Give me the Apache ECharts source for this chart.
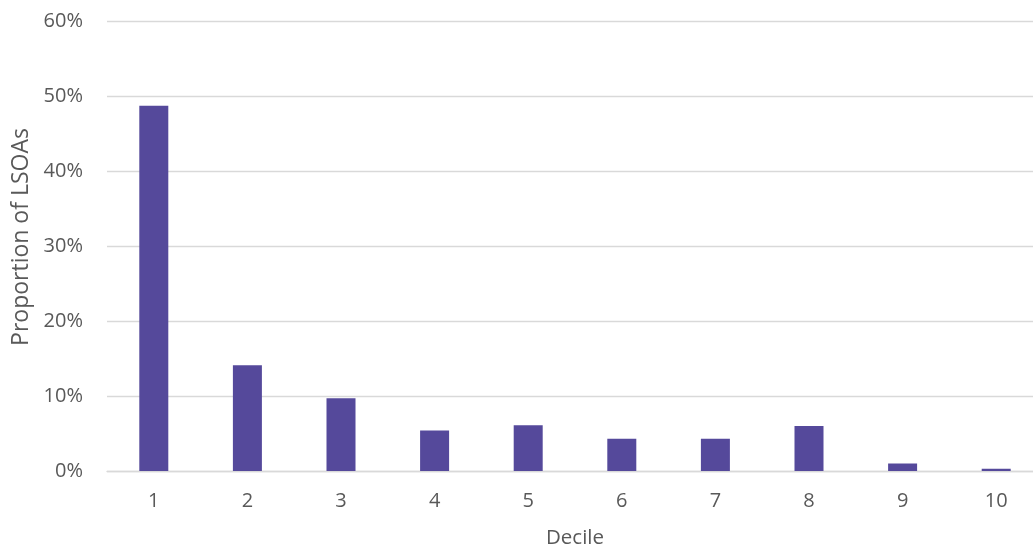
<!DOCTYPE html>
<html>
<head>
<meta charset="utf-8">
<script src="https://cdn.jsdelivr.net/npm/echarts@6/dist/echarts.min.js"></script>
<style>
html,body{margin:0;padding:0;background:#fff;}
#chart{width:1033px;height:548px;}
</style>
</head>
<body>
<div id="chart"></div>
<script>
const categories = ['1','2','3','4','5','6','7','8','9','10'];
const proportions = [48.7, 14.1, 9.7, 5.4, 6.1, 4.3, 4.3, 6.0, 1.0, 0.3];
const yTicks = [0, 10, 20, 30, 40, 50, 60];

const chart = echarts.init(document.getElementById('chart'), null, {renderer:'canvas', width:1033, height:548});
const textColor = '#595959';
const font = 'Open Sans';
chart.setOption({
  animation:false,
  grid:{left:107, width:936, top:21, height:450, containLabel:false, outerBoundsMode:'none'},
  xAxis:{
    type:'category',
    data:categories,
    name:'Decile',
    nameLocation:'middle',
    nameGap:57,
    nameTextStyle:{color:textColor, fontFamily:font, fontSize:20.5},
    axisLine:{show:true, lineStyle:{color:'#d9d9d9', width:1.3}},
    axisTick:{show:false},
    axisLabel:{color:textColor, fontFamily:font, fontSize:20, margin:20}
  },
  yAxis:{
    type:'value',
    min:yTicks[0],
    max:yTicks[yTicks.length-1],
    interval:10,
    name:'Proportion of LSOAs',
    nameLocation:'middle',
    nameGap:74,
    nameTextStyle:{color:textColor, fontFamily:font, fontSize:23, padding:[0,0,0,18]},
    axisLine:{show:false},
    axisTick:{show:false},
    splitLine:{lineStyle:{color:'#d9d9d9', width:1.3}},
    axisLabel:{color:textColor, fontFamily:font, fontSize:20, margin:24, formatter:'{value}%'}
  },
  series:[{
    type:'bar',
    data:proportions,
    barWidth:29,
    itemStyle:{color:'#55499B'}
  }]
});
</script>
</body>
</html>
